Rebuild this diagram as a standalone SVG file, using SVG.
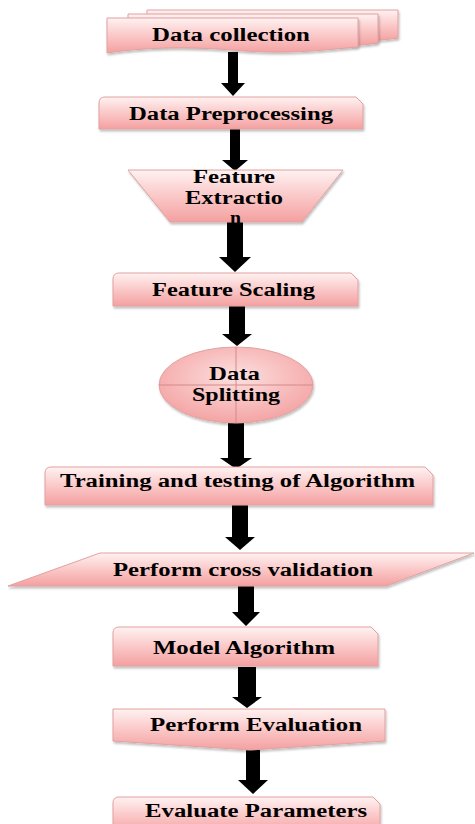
<svg xmlns="http://www.w3.org/2000/svg" width="475" height="824" viewBox="0 0 475 824">
<defs>
<linearGradient id="pink" x1="0" y1="0" x2="0" y2="1">
<stop offset="0" stop-color="#fff2f2"/>
<stop offset="0.45" stop-color="#fbcccc"/>
<stop offset="1" stop-color="#f4a0a0"/>
</linearGradient>
<radialGradient id="pinkR" cx="0.5" cy="0.4" r="0.6">
<stop offset="0" stop-color="#fde0e0"/>
<stop offset="1" stop-color="#f4a4a4"/>
</radialGradient>
<filter id="sh" x="-10%" y="-20%" width="125%" height="150%">
<feDropShadow dx="1" dy="2" stdDeviation="1.2" flood-color="#000" flood-opacity="0.25"/>
</filter>
</defs>
<style>
.n{fill:url(#pink);stroke:#e2a0a0;stroke-width:1;filter:url(#sh)}
.t{font-family:"Liberation Serif","Times New Roman",serif;font-weight:bold;font-size:19px;fill:#000}
.s{font-size:18px}
.a{fill:#000}
.x{stroke:#d48a8a;stroke-width:1}
</style>
<rect width="475" height="824" fill="#fff"/>

<g id="connectors">
<polygon class="a" points="228,52 238,52 238,83 245,83 233,96 221,83 228,83"/>
<polygon class="a" points="230,129 240,129 240,160 248,160 235,171 222,160 230,160"/>
<polygon class="a" points="227,222 243,222 243,257 251,257 235,272 219,257 227,257"/>
<polygon class="a" points="229,306 245,306 245,334 252,334 237,346 222,334 229,334"/>
<polygon class="a" points="228,423 244,423 244,458 252,458 236,469 220,458 228,458"/>
<polygon class="a" points="232,505 248,505 248,537 255,537 240,550 225,537 232,537"/>
<polygon class="a" points="238,586 254,586 254,612 260,612 246,626 232,612 238,612"/>
<polygon class="a" points="238,667 256,667 256,697 262,697 247,708 232,697 238,697"/>
<polygon class="a" points="246,750 260,750 260,780 268,780 253,794 238,780 246,780"/>
</g>

<g id="data-collection">
<path class="n" d="M147,10 H398 V38 C385,40 370,41 358,41 L358,40 H147 Z"/>
<path class="n" d="M128,14 H378 V43 C370,44 365,45 358,45 H128 Z"/>
<path class="n" d="M107,18 H358 V47 C320,50 290,55 232,50 C180,46 140,48 107,53 Z"/>
<text class="t" transform="scale(1.3,1)" x="116.92" y="41" textLength="121.5" lengthAdjust="spacingAndGlyphs">Data collection</text>
</g>

<g id="data-preprocessing">
<path class="n" d="M99,103 Q99,97 105,97 H356 L363,104 V129 H99 Z"/>
<text class="t" transform="scale(1.3,1)" x="99.23" y="120" textLength="156.9" lengthAdjust="spacingAndGlyphs">Data Preprocessing</text>
</g>

<g id="feature-extraction">
<polygon class="n" points="128,170 343,170 302,222 170,222"/>
<text class="t" transform="scale(1.3,1)" x="148.46" y="183" textLength="63.1" lengthAdjust="spacingAndGlyphs">Feature</text>
<text class="t" transform="scale(1.3,1)" x="142.31" y="204" textLength="75.4" lengthAdjust="spacingAndGlyphs">Extractio</text>
<text class="t" transform="scale(1.3,1)" x="176.92" y="224" textLength="8.5" lengthAdjust="spacingAndGlyphs">n</text>
</g>

<g id="feature-scaling">
<path class="n" d="M113,279 Q113,273 119,273 H351 L358,280 V306 H113 Z"/>
<text class="t" transform="scale(1.3,1)" x="116.92" y="296" textLength="125.4" lengthAdjust="spacingAndGlyphs">Feature Scaling</text>
</g>

<g id="data-splitting">
<ellipse cx="236" cy="385" rx="77" ry="38" fill="url(#pinkR)" stroke="#e2a0a0" stroke-width="1" filter="url(#sh)"/>
<line class="x" x1="236" y1="347" x2="236" y2="423"/>
<line class="x" x1="159" y1="385" x2="313" y2="385"/>
<text class="t s" transform="scale(1.3,1)" x="160.77" y="380" textLength="39.2" lengthAdjust="spacingAndGlyphs">Data</text>
<text class="t s" transform="scale(1.3,1)" x="147.69" y="401" textLength="67.7" lengthAdjust="spacingAndGlyphs">Splitting</text>
</g>

<g id="training-testing">
<path class="n" d="M45,473 Q45,467 51,467 H425 L433,475 V505 H45 Z"/>
<text class="t" transform="scale(1.3,1)" x="46.15" y="487" textLength="273.1" lengthAdjust="spacingAndGlyphs">Training and testing of Algorithm</text>
</g>

<g id="cross-validation">
<polygon class="n" points="100,553 474,553 386,586 8,586"/>
<text class="t" transform="scale(1.3,1)" x="86.92" y="576" textLength="200" lengthAdjust="spacingAndGlyphs">Perform cross validation</text>
</g>

<g id="model-algorithm">
<path class="n" d="M113,633 Q113,627 119,627 H371 L378,634 V666 H113 Z"/>
<text class="t" transform="scale(1.3,1)" x="117.69" y="654" textLength="140" lengthAdjust="spacingAndGlyphs">Model Algorithm</text>
</g>

<g id="perform-evaluation">
<path class="n" d="M113,709 H385 V741 L250,750 L113,741 Z"/>
<text class="t" transform="scale(1.3,1)" x="115.38" y="731" textLength="163.1" lengthAdjust="spacingAndGlyphs">Perform Evaluation</text>
</g>

<g id="evaluate-parameters">
<path class="n" d="M113,803 Q113,797 119,797 H373 L380,804 V834 H113 Z"/>
<text class="t" transform="scale(1.3,1)" x="111.54" y="817" textLength="170.8" lengthAdjust="spacingAndGlyphs">Evaluate Parameters</text>
</g>
</svg>
